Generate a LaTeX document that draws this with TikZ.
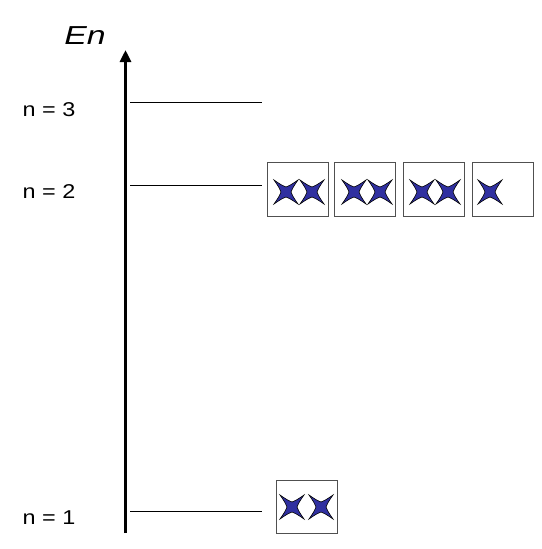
\documentclass[tikz,border=0pt]{standalone}
\usepackage{fontspec}
\setmainfont{Liberation Sans}
\usetikzlibrary{arrows.meta}
\definecolor{starblue}{RGB}{48,48,160}
\definecolor{boxgray}{RGB}{80,80,80}
\tikzset{
  lvl/.style={draw=black, line width=0.8},
  lbl/.style={font=\fontsize{20}{24}\selectfont, inner sep=0pt, xscale=1.17},
  orb/.style={draw=boxgray, line width=0.9, fill=white, inner sep=0pt, minimum width=61, minimum height=54},
  axisline/.style={line width=3.6, -{Triangle[length=12,width=11]}},
  starfill/.style={fill=starblue, draw=black, line width=0.6, line join=miter},
}
\newcommand{\xstar}[2]{%
  \begin{scope}[shift={(#1,#2)}]
  \path[starfill]
    (12,12) .. controls (7.2,5) .. (5,0) .. controls (7.2,-5) .. (12,-12)
    .. controls (5,-7.2) .. (0,-5) .. controls (-5,-7.2) .. (-12,-12)
    .. controls (-7.2,-5) .. (-5,0) .. controls (-7.2,5) .. (-12,12)
    .. controls (-5,7.2) .. (0,5) .. controls (5,7.2) .. cycle;
  \end{scope}}
\begin{document}
\begin{tikzpicture}[x=1pt,y=-1pt]
\useasboundingbox (0,0) rectangle (541,549);
% levels
\coordinate (l3a) at (130,102); \coordinate (l3b) at (262,102);
\coordinate (l2a) at (130,185); \coordinate (l2b) at (262,185);
\coordinate (l1a) at (130,511); \coordinate (l1b) at (262,511);
\draw[lvl] (l3a) -- (l3b);
\draw[lvl] (l2a) -- (l2b);
\draw[lvl] (l1a) -- (l1b);
% axis
\coordinate (ax0) at (125.5,533); \coordinate (ax1) at (125.5,50);
\draw[axisline] (ax0) -- (ax1);
\node[font=\fontsize{26}{30}\selectfont\itshape, inner sep=0pt, xscale=1.3] (en) at (85,36) {En};
% labels
\node[lbl] (n3) at (49,110) {n = 3};
\node[lbl] (n2) at (49,192) {n = 2};
\node[lbl] (n1) at (49,518) {n = 1};
% boxes n=2
\node[orb] (b1) at (297.5,189.5) {};
\node[orb] (b2) at (365,189.5) {};
\node[orb] (b3) at (433.5,189.5) {};
\node[orb] (b4) at (502.5,189.5) {};
% box n=1
\node[orb, minimum height=53] (b0) at (307,506.5) {};
% stars
\xstar{286}{192}\xstar{312}{192}
\xstar{354}{192}\xstar{380}{192}
\xstar{422}{192}\xstar{448}{192}
\xstar{490}{192}
\xstar{292}{507}\xstar{321}{507}
\end{tikzpicture}
\end{document}
